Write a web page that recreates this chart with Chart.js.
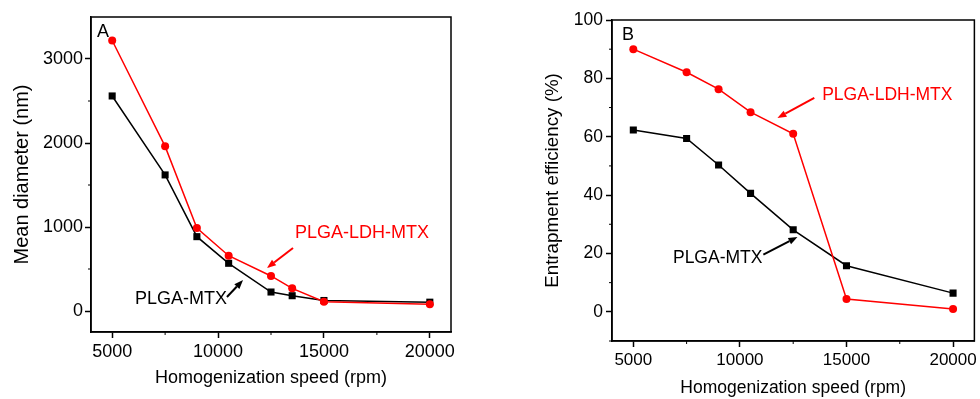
<!DOCTYPE html>
<html>
<head>
<meta charset="utf-8">
<script src="https://cdn.jsdelivr.net/npm/chart.js@4.4.1/dist/chart.umd.min.js"></script>
<style>
  html, body { margin: 0; padding: 0; background: #fff; }
  .panel { position: absolute; top: 0; }
  #panelA { left: 0; }
  #panelB { left: 490px; }
</style>
</head>
<body>
<div class="panel" id="panelA"><canvas id="chartA" width="490" height="399"></canvas></div>
<div class="panel" id="panelB"><canvas id="chartB" width="490" height="399"></canvas></div>
<script>
// homogenization speed (rpm) and measured values
const speedA = [5000, 7500, 9000, 10500, 12500, 13500, 15000, 20000];
const diameterPlgaMtx = [2560, 1620, 885, 568, 226, 182, 125, 105];
const diameterPlgaLdhMtx = [3220, 1960, 988, 658, 417, 270, 110, 80];

const speedB = [5000, 7500, 9000, 10500, 12500, 15000, 20000];
const efficiencyPlgaMtx = [62.3, 59.4, 50.3, 40.6, 28.1, 15.8, 6.4];
const efficiencyPlgaLdhMtx = [90.0, 82.1, 76.3, 68.4, 61.0, 4.4, 1.0];

const speedTicks = [5000, 10000, 15000, 20000];
const speedMinor = [7500, 12500, 17500];
const diameterTicks = [0, 1000, 2000, 3000];
const diameterMinor = [500, 1500, 2500];
const efficiencyTicks = [0, 20, 40, 60, 80, 100];
const efficiencyMinor = [-10, 10, 30, 50, 70, 90];

const RED = '#ff0000';
const FONT = "'Liberation Sans', Arial, sans-serif";

// frame, minor ticks, panel letter and arrow callouts
const extras = {
  id: 'extras',
  afterDraw(chart, args, o) {
    const { ctx, chartArea: a, scales: { x, y } } = chart;
    ctx.save();
    ctx.strokeStyle = '#000';
    ctx.lineWidth = 1.5;
    ctx.strokeRect(a.left, a.top, a.right - a.left, a.bottom - a.top);

    ctx.lineWidth = 1;
    ctx.beginPath();
    o.minorX.forEach(v => { const p = x.getPixelForValue(v); ctx.moveTo(p, a.bottom); ctx.lineTo(p, a.bottom + 3); });
    o.minorY.forEach(v => { const p = y.getPixelForValue(v); ctx.moveTo(a.left, p); ctx.lineTo(a.left - 3, p); });
    ctx.stroke();

    ctx.fillStyle = '#000';
    ctx.font = `18px ${FONT}`;
    ctx.textBaseline = 'middle';
    ctx.fillText(o.letter, a.left + o.letterAt[0], a.top + o.letterAt[1]);

    o.notes.forEach(n => {
      ctx.fillStyle = n.color;
      ctx.strokeStyle = n.color;
      ctx.font = `${n.size}px ${FONT}`;
      ctx.textBaseline = 'middle';
      ctx.fillText(n.text, x.getPixelForValue(n.at[0]), y.getPixelForValue(n.at[1]));

      const x0 = x.getPixelForValue(n.from[0]), y0 = y.getPixelForValue(n.from[1]);
      const x1 = x.getPixelForValue(n.to[0]), y1 = y.getPixelForValue(n.to[1]);
      const ang = Math.atan2(y1 - y0, x1 - x0);
      const head = 9, half = 3.5;
      const bx = x1 - head * Math.cos(ang), by = y1 - head * Math.sin(ang);
      ctx.lineWidth = 2;
      ctx.beginPath();
      ctx.moveTo(x0, y0);
      ctx.lineTo(bx, by);
      ctx.stroke();
      ctx.beginPath();
      ctx.moveTo(x1, y1);
      ctx.lineTo(bx + half * Math.sin(ang), by - half * Math.cos(ang));
      ctx.lineTo(bx - half * Math.sin(ang), by + half * Math.cos(ang));
      ctx.closePath();
      ctx.fill();
    });
    ctx.restore();
  }
};

function series(label, xs, ys, color, style, radius) {
  return {
    label, data: xs.map((v, i) => ({ x: v, y: ys[i] })),
    borderColor: color, backgroundColor: color, borderWidth: 1.5,
    pointStyle: style, pointRadius: radius, pointBorderWidth: 0,
    pointBackgroundColor: color, tension: 0
  };
}

function axis(cfg) {
  return {
    type: 'linear', min: cfg.min, max: cfg.max,
    afterBuildTicks: s => { s.ticks = cfg.ticks.map(v => ({ value: v })); },
    afterFit: s => { if (cfg.width) s.width = cfg.width; if (cfg.height) s.height = cfg.height; },
    grid: { drawOnChartArea: false, tickLength: 6, tickWidth: 1.5, tickColor: '#000' },
    border: { display: true, color: '#000', width: 1.5 },
    ticks: { color: '#000', font: { family: FONT, size: cfg.tickSize }, padding: cfg.tickPad, maxRotation: 0, callback: v => String(v) },
    title: { display: true, text: cfg.title, color: '#000', font: { family: FONT, size: cfg.titleSize }, padding: cfg.titlePad }
  };
}

function makeChart(id, datasets, scales, padding, notes) {
  return new Chart(document.getElementById(id), {
    type: 'line',
    data: { datasets },
    options: {
      responsive: false, animation: false, devicePixelRatio: 1,
      layout: { padding },
      plugins: { legend: { display: false }, tooltip: { enabled: false }, extras: notes }
    , scales },
    plugins: [extras]
  });
}

makeChart('chartA',
  [series('PLGA-LDH-MTX', speedA, diameterPlgaLdhMtx, RED, 'circle', 4),
   series('PLGA-MTX', speedA, diameterPlgaMtx, '#000', 'rect', 5)],
  {
    x: axis({ min: 4000, max: 21000, ticks: speedTicks, height: 67, tickSize: 18, tickPad: 3,
              title: 'Homogenization speed (rpm)', titleSize: 18, titlePad: { top: 0, bottom: 10 } }),
    y: axis({ min: -250, max: 3500, ticks: diameterTicks, width: 91, tickSize: 18, tickPad: 2,
              title: 'Mean diameter (nm)', titleSize: 20, titlePad: { top: 10, bottom: 0 } })
  },
  { left: 0, top: 17, right: 39, bottom: 0 },
  {
    minorX: speedMinor, minorY: diameterMinor, letter: 'A', letterAt: [6, 15],
    notes: [
      { text: 'PLGA-LDH-MTX', color: RED, size: 18, at: [13630, 929], from: [13540, 750], to: [12310, 512] },
      { text: 'PLGA-MTX', color: '#000', size: 18, at: [6080, 143], from: [10420, 167], to: [11180, 369] }
    ]
  });

makeChart('chartB',
  [series('PLGA-LDH-MTX', speedB, efficiencyPlgaLdhMtx, RED, 'circle', 4),
   series('PLGA-MTX', speedB, efficiencyPlgaMtx, '#000', 'rect', 5)],
  {
    x: axis({ min: 4000, max: 21000, ticks: speedTicks, height: 58, tickSize: 17, tickPad: 3,
              title: 'Homogenization speed (rpm)', titleSize: 17.5, titlePad: { top: 0, bottom: 0 } }),
    y: axis({ min: -10, max: 100, ticks: efficiencyTicks, width: 122, tickSize: 17.5, tickPad: 3,
              title: 'Entrapment efficiency (%)', titleSize: 18.8, titlePad: { top: 52, bottom: 0 } })
  },
  { left: 0, top: 20, right: 4, bottom: 0 },
  {
    minorX: speedMinor, minorY: efficiencyMinor, letter: 'B', letterAt: [10, 15],
    notes: [
      { text: 'PLGA-LDH-MTX', color: RED, size: 17.5, at: [13860, 74.3], from: [13490, 73.3], to: [11760, 66.4] },
      { text: 'PLGA-MTX', color: '#000', size: 17.5, at: [6860, 18.5], from: [11100, 19.6], to: [12700, 25.6] }
    ]
  });
</script>
</body>
</html>
